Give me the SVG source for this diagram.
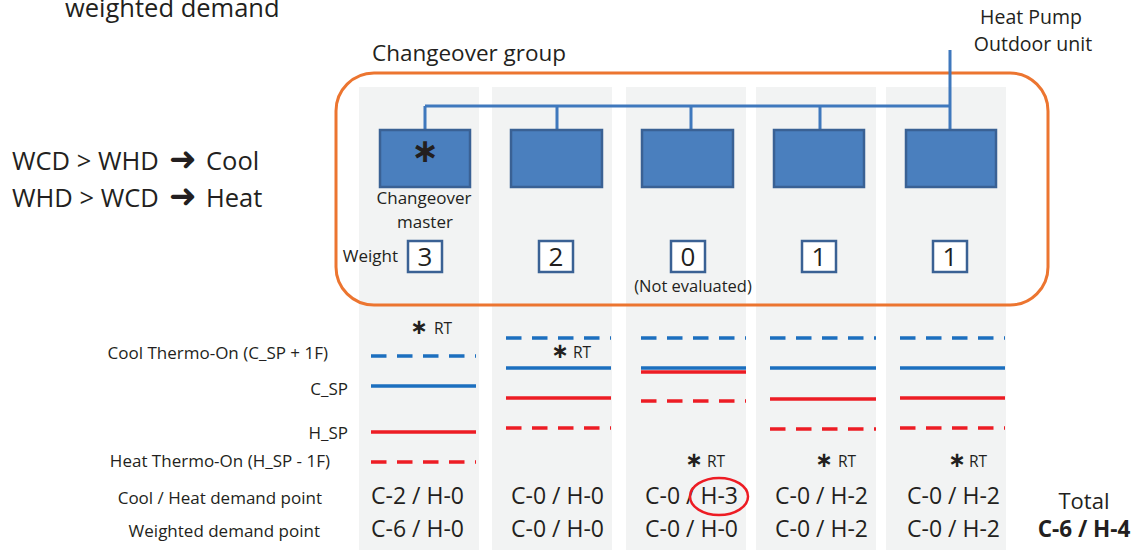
<svg xmlns="http://www.w3.org/2000/svg" width="1138" height="550" viewBox="0 0 1138 550">
<style>
text{font-family:"Open Sans","Noto Sans","DejaVu Sans",sans-serif;fill:#231f20}
.col{fill:#f2f3f3}
.unit{fill:#4a7fbe;stroke:#3a6194;stroke-width:2.5}
.wbox{fill:#fff;stroke:#3a6194;stroke-width:2.5}
.pipe{stroke:#3f78bd;stroke-width:3;fill:none}
.cd{stroke:#1c6fbf;stroke-width:3.5;stroke-dasharray:15.5 10.5}
.cs{stroke:#1c6fbf;stroke-width:3.5}
.hs{stroke:#ed1c24;stroke-width:3.5}
.hd{stroke:#ed1c24;stroke-width:3.5;stroke-dasharray:15.5 10.5}
.lbl{font-size:17px;text-anchor:end}
.val{font-size:23px}
.wt{font-size:26px;text-anchor:middle}
.ast{font-family:"DejaVu Sans",sans-serif;font-weight:bold}
.arr{font-family:"DejaVu Sans",sans-serif}
.rt{font-size:15.5px}
</style>
<rect width="1138" height="550" fill="#fff"/>
<g id="columns">
<rect class="col" x="359" y="87" width="120" height="463"/>
<rect class="col" x="492" y="87" width="120" height="463"/>
<rect class="col" x="626" y="87" width="120" height="463"/>
<rect class="col" x="756" y="87" width="120" height="463"/>
<rect class="col" x="886" y="87" width="120" height="463"/>
</g>
<g id="title"><text x="65" y="17" font-size="25.5">weighted demand</text></g>
<g id="rule">
<text y="170" font-size="25.5"><tspan x="12">WCD &gt; WHD</tspan><tspan class="arr" x="169" font-size="33">➜</tspan><tspan x="206">Cool</tspan></text>
<text y="207" font-size="25.5"><tspan x="12">WHD &gt; WCD</tspan><tspan class="arr" x="169" font-size="33">➜</tspan><tspan x="206">Heat</tspan></text>
</g>
<g id="changeover-group">
<rect x="336" y="73" width="712" height="232" rx="38" fill="none" stroke="#ec7530" stroke-width="3"/>
<text x="372" y="61" font-size="22.5">Changeover group</text>
</g>
<g id="outdoor-unit">
<text x="1031" y="24" font-size="19.5" text-anchor="middle">Heat Pump</text>
<text x="1033" y="51" font-size="19.5" text-anchor="middle">Outdoor unit</text>
</g>
<g id="connectors">
<path class="pipe" d="M950 50V131M425 106H950M425 106V131M557 106V131M691 106V131M820 106V131"/>
</g>
<g id="unit1">
<rect class="unit" x="380" y="130" width="90" height="57"/>
<text class="ast" x="425" y="162" font-size="33" text-anchor="middle">∗</text>
<text x="424" y="204" font-size="17" text-anchor="middle">Changeover</text>
<text x="425" y="228" font-size="17" text-anchor="middle">master</text>
<text x="398" y="262" font-size="17" text-anchor="end">Weight</text>
<rect class="wbox" x="408" y="241" width="34" height="31"/>
<text class="wt" x="425" y="266">3</text>
</g>
<g id="unit2">
<rect class="unit" x="511" y="130" width="91" height="57"/>
<rect class="wbox" x="539" y="241" width="34" height="31"/>
<text class="wt" x="556" y="266">2</text>
</g>
<g id="unit3">
<rect class="unit" x="642" y="130" width="91" height="57"/>
<rect class="wbox" x="671" y="241" width="34" height="31"/>
<text class="wt" x="688" y="266">0</text>
<text x="693" y="292" font-size="16.5" text-anchor="middle">(Not evaluated)</text>
</g>
<g id="unit4">
<rect class="unit" x="774" y="130" width="90" height="57"/>
<rect class="wbox" x="802" y="241" width="34" height="31"/>
<text class="wt" x="819" y="266">1</text>
</g>
<g id="unit5">
<rect class="unit" x="906" y="130" width="90" height="57"/>
<rect class="wbox" x="933" y="241" width="34" height="31"/>
<text class="wt" x="950" y="266">1</text>
</g>
<g id="row-labels">
<text class="lbl" x="328" y="359">Cool Thermo-On (C_SP + 1F)</text>
<text class="lbl" x="348" y="395">C_SP</text>
<text class="lbl" x="348" y="439">H_SP</text>
<text class="lbl" x="330" y="467">Heat Thermo-On (H_SP - 1F)</text>
<text class="lbl" x="322" y="504">Cool / Heat demand point</text>
<text class="lbl" x="320" y="537">Weighted demand point</text>
</g>
<g id="col1-levels">
<line class="cd" x1="371" y1="356" x2="476" y2="356"/>
<line class="cs" x1="371" y1="386" x2="476" y2="386"/>
<line class="hs" x1="371" y1="432" x2="476" y2="432"/>
<line class="hd" x1="371" y1="462" x2="476" y2="462"/>
<text class="ast" x="419" y="334" font-size="21" text-anchor="middle">∗</text>
<text class="rt" x="434" y="334">RT</text>
<text class="val" x="371" y="504">C-2 / H-0</text>
<text class="val" x="371" y="537">C-6 / H-0</text>
</g>
<g id="col2-levels">
<line class="cd" x1="506" y1="338" x2="611" y2="338"/>
<line class="cs" x1="506" y1="368" x2="611" y2="368"/>
<line class="hs" x1="506" y1="398" x2="611" y2="398"/>
<line class="hd" x1="506" y1="428" x2="611" y2="428"/>
<text class="ast" x="560" y="358" font-size="21" text-anchor="middle">∗</text>
<text class="rt" x="573" y="358">RT</text>
<text class="val" x="511" y="504">C-0 / H-0</text>
<text class="val" x="511" y="537">C-0 / H-0</text>
</g>
<g id="col3-levels">
<line class="cd" x1="641" y1="338" x2="746" y2="338"/>
<line class="cs" x1="641" y1="368" x2="746" y2="368"/>
<line class="hs" x1="641" y1="372" x2="746" y2="372"/>
<line class="hd" x1="641" y1="401" x2="746" y2="401"/>
<text class="ast" x="694" y="467" font-size="21" text-anchor="middle">∗</text>
<text class="rt" x="707" y="467">RT</text>
<text class="val" x="645" y="504">C-0 / H-3</text>
<text class="val" x="645" y="537">C-0 / H-0</text>
<ellipse cx="719" cy="496.5" rx="29" ry="18.5" fill="none" stroke="#ed1c24" stroke-width="2.5"/>
</g>
<g id="col4-levels">
<line class="cd" x1="770" y1="338" x2="876" y2="338"/>
<line class="cs" x1="770" y1="368" x2="876" y2="368"/>
<line class="hs" x1="770" y1="399" x2="876" y2="399"/>
<line class="hd" x1="770" y1="429" x2="876" y2="429"/>
<text class="ast" x="824" y="467" font-size="21" text-anchor="middle">∗</text>
<text class="rt" x="838" y="467">RT</text>
<text class="val" x="775" y="504">C-0 / H-2</text>
<text class="val" x="775" y="537">C-0 / H-2</text>
</g>
<g id="col5-levels">
<line class="cd" x1="900" y1="338" x2="1005" y2="338"/>
<line class="cs" x1="900" y1="368" x2="1005" y2="368"/>
<line class="hs" x1="900" y1="398" x2="1005" y2="398"/>
<line class="hd" x1="900" y1="428" x2="1005" y2="428"/>
<text class="ast" x="957" y="467" font-size="21" text-anchor="middle">∗</text>
<text class="rt" x="969" y="467">RT</text>
<text class="val" x="907" y="504">C-0 / H-2</text>
<text class="val" x="907" y="537">C-0 / H-2</text>
</g>
<g id="total">
<text x="1084" y="509" font-size="22" text-anchor="middle">Total</text>
<text x="1084" y="537" font-size="22.5" font-weight="bold" text-anchor="middle">C-6 / H-4</text>
</g>
</svg>
